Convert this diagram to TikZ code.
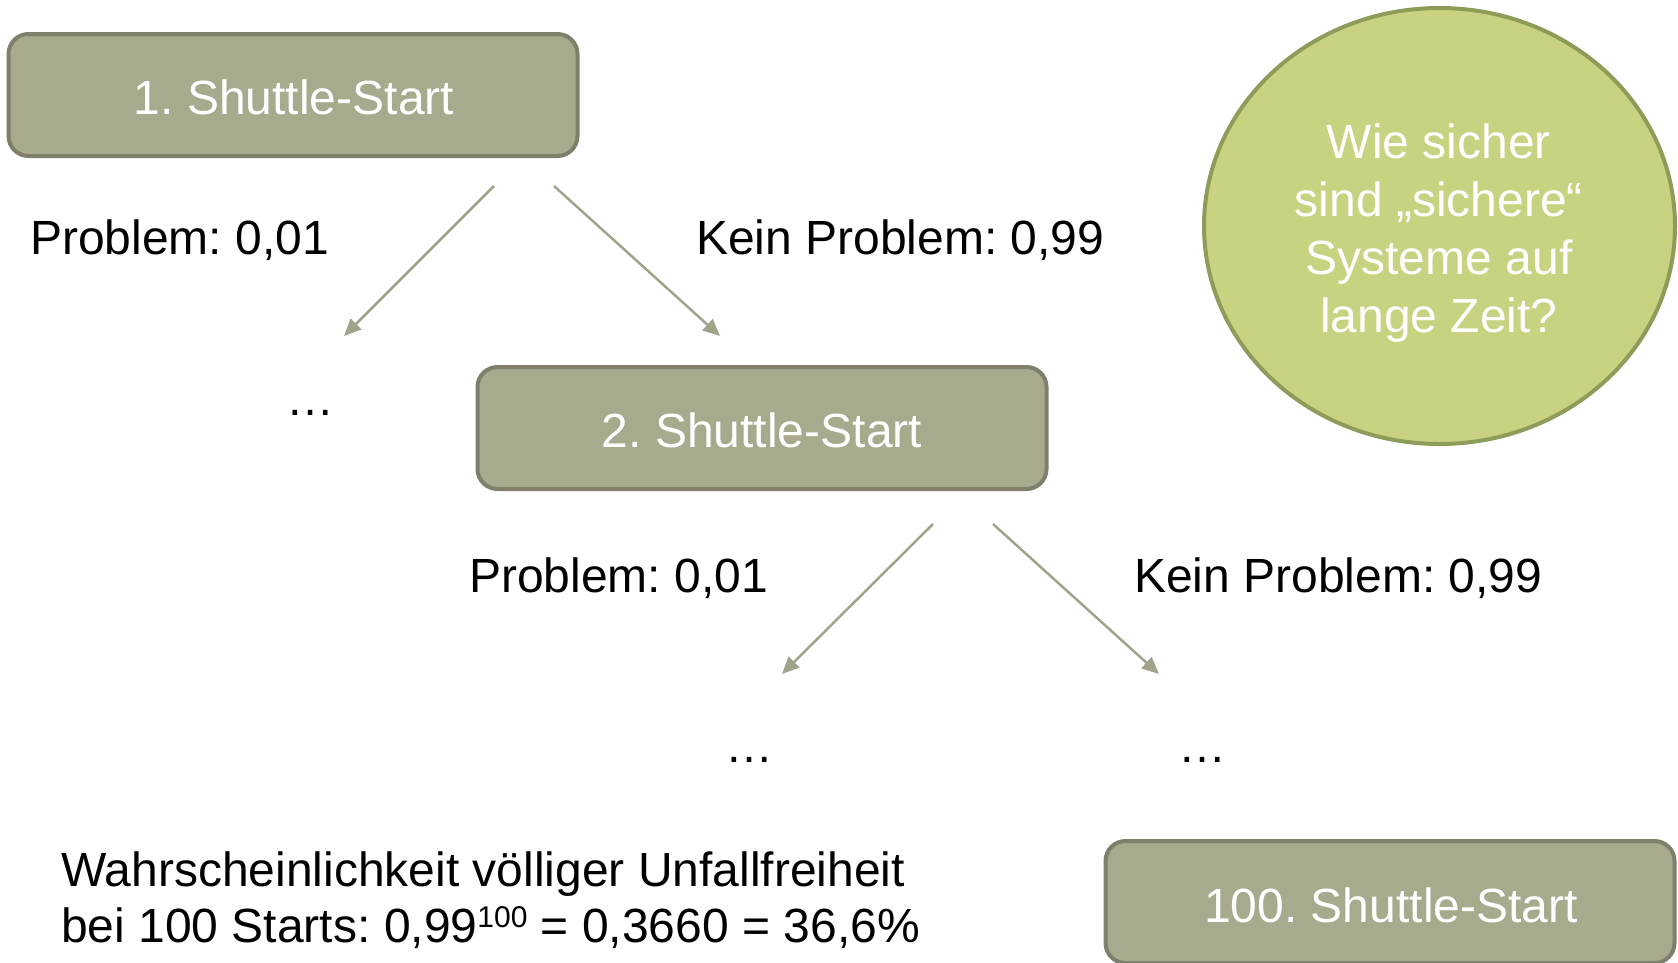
\documentclass[tikz,border=0pt]{standalone}
\usepackage{fontspec}
\setmainfont{Liberation Sans}
\usetikzlibrary{arrows.meta,shapes.geometric}
\definecolor{boxfill}{HTML}{A9A98E}
\definecolor{boxline}{HTML}{7F7F6B}
\definecolor{circfill}{HTML}{C8D280}
\definecolor{circline}{HTML}{8E9C5A}
\definecolor{arrowcol}{HTML}{A3A38B}
\frenchspacing
\begin{document}
\begin{tikzpicture}[x=1pt,y=-1pt,
  box/.style={draw=boxline,fill=boxfill,line width=4pt,rounded corners=20pt,
    minimum width=569pt,minimum height=122pt,inner sep=0pt},
  boxtext/.style={text=white,font=\fontsize{48}{57.6}\selectfont,anchor=base,inner sep=0pt},
  lab/.style={text=black,font=\fontsize{48}{57.6}\selectfont,anchor=base west,inner sep=0pt},
  dots/.style={text=black,font=\fontsize{48}{57.6}\selectfont,anchor=base,inner sep=0pt},
  arr/.style={draw=arrowcol,line width=2.5pt,-{Triangle[length=17pt,width=15pt]}}]
\useasboundingbox (0,0) rectangle (1678,962);
% boxes
\node[box] (s1) at (293,95) {};
\node[boxtext] (t1) at (294,114) {1. Shuttle-Start};
\node[box] (s2) at (762,428) {};
\node[boxtext] (t2) at (762,447) {2. Shuttle-Start};
\node[box] (s3) at (1390,902) {};
\node[boxtext] (t3) at (1391,922) {100. Shuttle-Start};
% circle
\node[ellipse,draw=circline,fill=circfill,line width=4pt,minimum width=471pt,minimum height=436pt,inner sep=0pt] (c) at (1439.5,226) {};
\node[boxtext] (c1) at (1439,158) {Wie sicher};
\node[boxtext] (c2) at (1439,216) {sind „sichere“};
\node[boxtext] (c3) at (1439,274) {Systeme auf};
\node[boxtext] (c4) at (1439,332) {lange Zeit?};
% arrow coordinates
\coordinate (a1s) at (494,186); \coordinate (a1e) at (344,336);
\coordinate (a2s) at (554,186); \coordinate (a2e) at (720,336);
\coordinate (a3s) at (933,524); \coordinate (a3e) at (782,674);
\coordinate (a4s) at (993,524); \coordinate (a4e) at (1159,674);
\draw[arr] (a1s) -- (a1e);
\draw[arr] (a2s) -- (a2e);
\draw[arr] (a3s) -- (a3e);
\draw[arr] (a4s) -- (a4e);
% labels
\node[lab] (l1) at (30,254) {Problem: 0,01};
\node[lab] (l2) at (696,254) {Kein Problem: 0,99};
\node[lab] (l3) at (469,592) {Problem: 0,01};
\node[lab] (l4) at (1134,592) {Kein Problem: 0,99};
\node[dots] (d1) at (310,415) {…};
\node[dots] (d2) at (749,762) {…};
\node[dots] (d3) at (1202,762) {…};
% bottom text
\node[lab] (b1) at (61,886) {Wahrscheinlichkeit völliger Unfallfreiheit};
\node[lab] (b2) at (61,942) {bei 100 Starts: 0,99\raisebox{15pt}{\fontsize{30}{30}\selectfont 100} = 0,3660 = 36,6\%};
\end{tikzpicture}
\end{document}
